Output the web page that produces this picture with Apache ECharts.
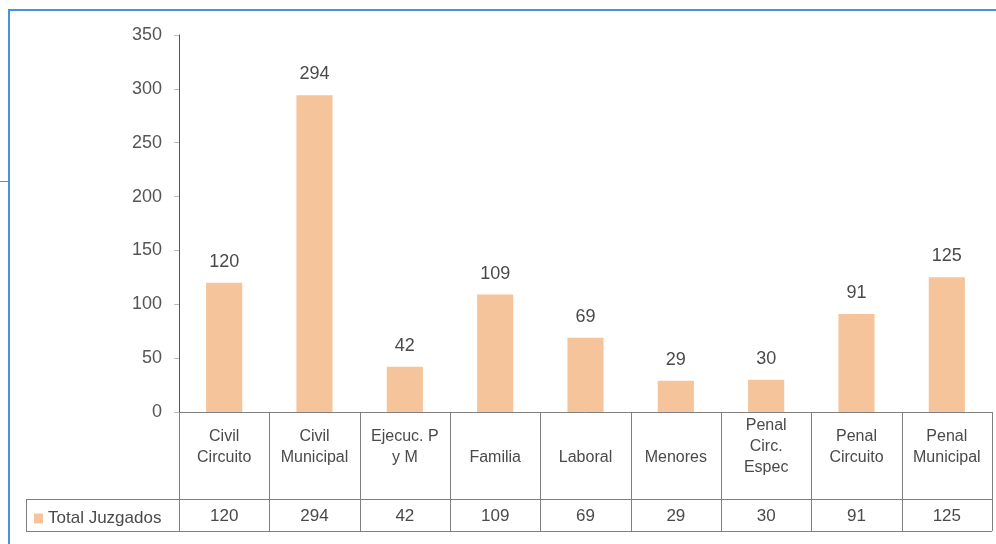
<!DOCTYPE html>
<html>
<head>
<meta charset="utf-8">
<script src="https://cdn.jsdelivr.net/npm/echarts@6/dist/echarts.min.js"></script>
<style>
  html,body{margin:0;padding:0;background:#fff}
  #main{width:996px;height:544px}
</style>
</head>
<body>
<div id="main"></div>
<script>
// datos
const categorias = ['Civil\nCircuito', 'Civil\nMunicipal', 'Ejecuc. P\ny M', 'Familia', 'Laboral', 'Menores', 'Penal\nCirc.\nEspec', 'Penal\nCircuito', 'Penal\nMunicipal'];
const totalJuzgados = [120, 294, 42, 109, 69, 29, 30, 91, 125];
const serieNombre = 'Total Juzgados';

const barColor = '#F6C49A';
const lineColor = '#7f7f7f';
const textColor = '#4a4a4a';
const blue = '#4A93D6';

const chart = echarts.init(document.getElementById('main'));

const option = {
  animation: false,
  textStyle: {fontFamily: 'Liberation Sans, Arial, sans-serif'},
  grid: {left: 179, right: 4, top: 35, bottom: 132},
  legend: {
    data: [serieNombre],
    left: 29, top: 505,
    icon: 'rect', itemWidth: 9, itemHeight: 10, itemGap: 4,
    textStyle: {fontSize: 17, color: textColor}
  },
  xAxis: [
    {
      type: 'category',
      data: categorias,
      axisLine: {show: true, lineStyle: {color: lineColor}},
      axisTick: {show: false},
      axisLabel: {
        interval: 0, margin: 35, verticalAlign: 'middle',
        fontSize: 16, lineHeight: 21, color: textColor,
        // las etiquetas de una sola linea quedan mas abajo
        formatter: v => v.indexOf('\n') < 0 ? '{one|' + v + '}' : v,
        rich: {one: {fontSize: 16, color: textColor, padding: [22, 0, 0, 0]}}
      }
    },
    {
      // fila de valores de la tabla
      type: 'category',
      position: 'bottom',
      data: categorias,
      axisLine: {show: false},
      axisTick: {show: false},
      axisLabel: {
        interval: 0, margin: 104, verticalAlign: 'middle',
        fontSize: 17, color: textColor,
        formatter: (v, i) => String(totalJuzgados[i])
      }
    }
  ],
  yAxis: {
    type: 'value',
    min: 0, max: 350, interval: 50,
    axisLine: {show: true, lineStyle: {color: '#555'}},
    axisTick: {show: true, length: 5, lineStyle: {color: '#bbb'}},
    splitLine: {show: false},
    axisLabel: {fontSize: 18, color: '#555', margin: 17}
  },
  series: [{
    name: serieNombre,
    type: 'bar',
    data: totalJuzgados,
    barWidth: '40%',
    itemStyle: {color: barColor},
    label: {show: true, position: 'top', distance: 12, fontSize: 18, color: textColor}
  }]
};
chart.setOption(option);

// tabla de datos debajo del eje
const x0 = chart.convertToPixel({xAxisIndex: 0}, 0);
const x1 = chart.convertToPixel({xAxisIndex: 0}, 1);
const band = x1 - x0;
const yTop = chart.convertToPixel({yAxisIndex: 0}, 0);
const yMid = 499, yBot = 531, xLeg = 26;
const right = x0 - band / 2 + band * categorias.length;
const lines = [];
function ln(a, b, c, d, color, w) {
  lines.push({type: 'line', z: 100, silent: true, shape: {x1: a, y1: b, x2: c, y2: d}, style: {stroke: color || lineColor, lineWidth: w || 1}});
}
for (let i = 0; i <= categorias.length; i++) {
  const x = Math.round(x0 - band / 2 + band * i) + 0.5;
  ln(x, yTop, x, yBot);
}
ln(xLeg + 0.5, yMid, xLeg + 0.5, yBot);
ln(xLeg, yMid + 0.5, right, yMid + 0.5);
ln(xLeg, yBot + 0.5, right, yBot + 0.5);
// marco azul
ln(8, 10, 996, 10, blue, 2);
ln(9, 9, 9, 544, blue, 2);
ln(0, 181.5, 8, 181.5, blue, 1);
chart.setOption({graphic: lines});
</script>
</body>
</html>
